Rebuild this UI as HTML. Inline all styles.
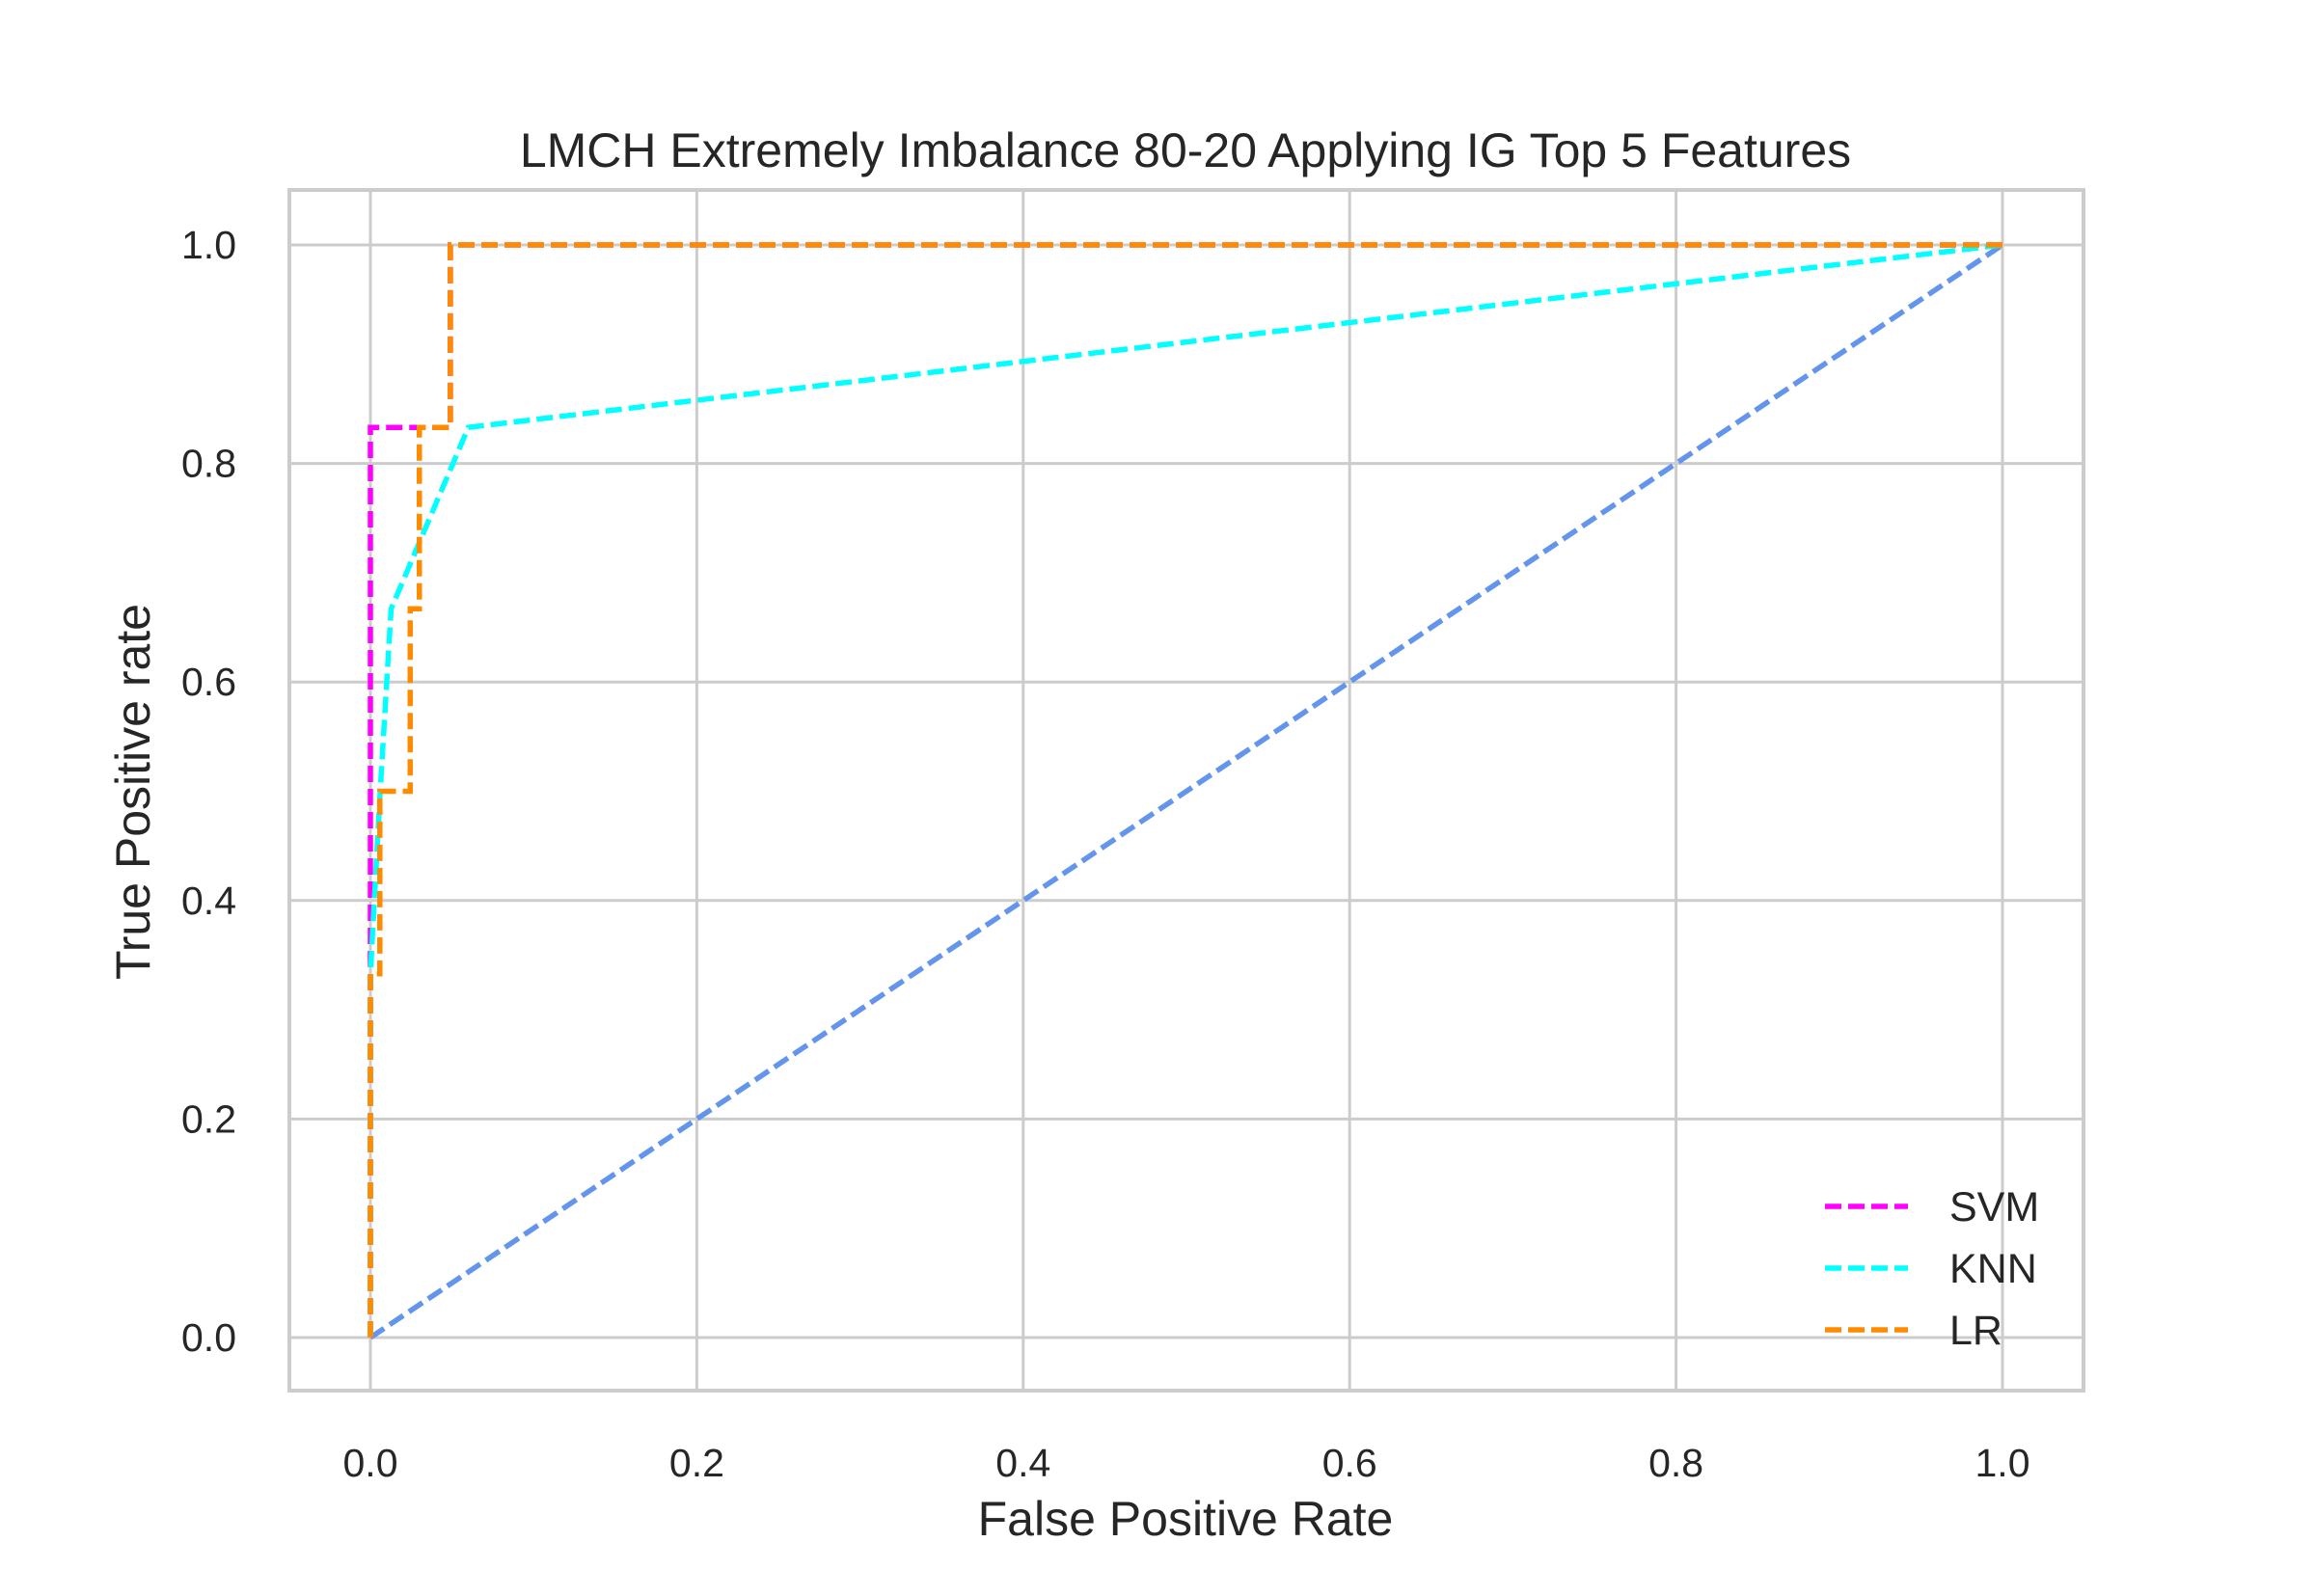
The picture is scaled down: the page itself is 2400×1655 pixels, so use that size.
<!DOCTYPE html>
<html><head><meta charset="utf-8"><style>
html,body{margin:0;padding:0;background:#fff;}
svg text{font-family:"Liberation Sans",Arial,sans-serif;fill:#262626;}
</style></head><body>
<svg id="chart" width="2400" height="1650" xmlns="http://www.w3.org/2000/svg">
<rect width="2400" height="1650" fill="#fff"/>
<g id="grid"></g>
<rect x="300" y="197" width="1860" height="1245" fill="none" stroke="#cccccc" stroke-width="4"/>
<g id="lines"></g>
<g id="ticks"></g>
<text x="1229" y="173" font-size="50" text-anchor="middle">LMCH Extremely Imbalance 80-20 Applying IG Top 5 Features</text>
<text x="1229" y="1592" font-size="50" text-anchor="middle">False Positive Rate</text>
<text x="0" y="0" font-size="50" text-anchor="middle" transform="translate(155,821) rotate(-90)">True Positive rate</text>
<g id="legend"></g>
</svg>
<script>
const xTicks=[0,0.2,0.4,0.6,0.8,1.0];
const yTicks=[0,0.2,0.4,0.6,0.8,1.0];
const svmX=[0,0,0.049,0.049,1];
const svmY=[0,0.833,0.833,1,1];
const knnX=[0,0,0.006,0.0127,0.06,1];
const knnY=[0,0.333,0.5,0.667,0.833,1];
const lrX=[0,0,0.0058,0.0058,0.0244,0.0244,0.030,0.030,0.049,0.049,1];
const lrY=[0,0.333,0.333,0.5,0.5,0.667,0.667,0.833,0.833,1,1];
const diagX=[0,1];
const diagY=[0,1];
const seriesNames=['SVM','KNN','LR'];
const seriesColors=['#ff00ff','#00ffff','#ff8c00'];
const NS='http://www.w3.org/2000/svg';
function sx(v){return 384+v*(2076-384);}
function sy(v){return 1387-v*(1387-254);}
function mk(t,a,p){const e=document.createElementNS(NS,t);for(const k in a)e.setAttribute(k,a[k]);p.appendChild(e);return e;}
const grid=document.getElementById('grid'),ticks=document.getElementById('ticks');
xTicks.forEach(v=>{
 const l=mk('line',{x1:sx(v),x2:sx(v),y1:197,y2:1442,stroke:'#cccccc','stroke-width':3},grid);
 
 
 const t=mk('text',{x:sx(v),y:1531,'font-size':41,'text-anchor':'middle'},ticks);
 t.textContent=v.toFixed(1);
 
 
});
yTicks.forEach(v=>{
 const l=mk('line',{x1:300,x2:2160,y1:sy(v),y2:sy(v),stroke:'#cccccc','stroke-width':3},grid);
 
 
 const t=mk('text',{x:245,y:sy(v)+14,'font-size':41,'text-anchor':'end'},ticks);
 t.textContent=v.toFixed(1);
 
 
});
const lines=document.getElementById('lines');
function poly(xs,ys,c,name){
 const pts=xs.map((x,i)=>sx(x)+','+sy(ys[i])).join(' ');
 const p=mk('polyline',{points:pts,fill:'none',stroke:c,'stroke-width':5.5,'stroke-dasharray':'17,7'},lines);
 
 
}
poly(diagX,diagY,'#6495ed','chance-diagonal');
poly(svmX,svmY,seriesColors[0],'svm-roc-line');
poly(knnX,knnY,seriesColors[1],'knn-roc-line');
poly(lrX,lrY,seriesColors[2],'lr-roc-line');
const lg=document.getElementById('legend');
seriesNames.forEach((n,i)=>{
 const y=1251+i*64;
 const l=mk('line',{x1:1892,x2:1978,y1:y,y2:y,stroke:seriesColors[i],'stroke-width':5.5,'stroke-dasharray':'17,7'},lg);
 
 
 const t=mk('text',{x:2021,y:y+15,'font-size':43},lg);
 t.textContent=n;
 
 
});
</script>
</body></html>
